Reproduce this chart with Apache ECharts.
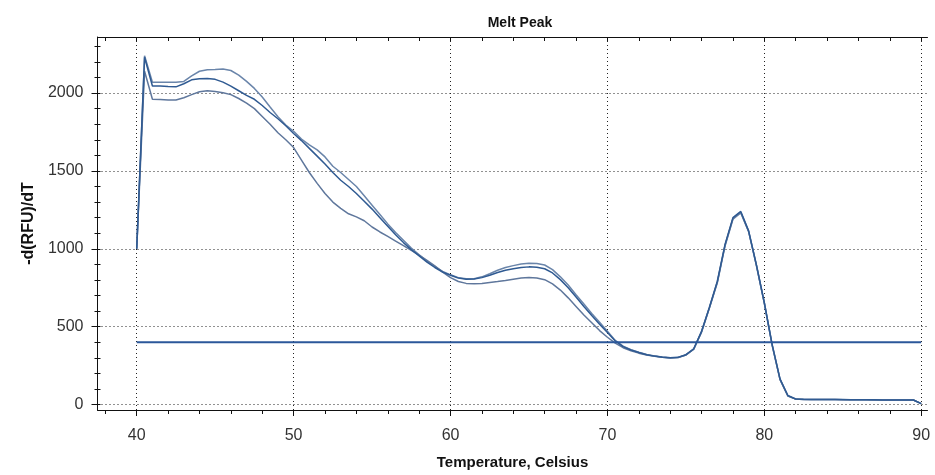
<!DOCTYPE html>
<html><head><meta charset="utf-8">
<script src="https://cdn.jsdelivr.net/npm/echarts@6/dist/echarts.min.js"></script>
<style>html,body{margin:0;padding:0;background:#fff}#c{width:935px;height:475px}</style>
</head><body><div id="c"></div>
<script>
// Temperature steps (Celsius)
const temps = [40,40.5,41,41.5,42,42.5,43,43.5,44,44.5,45,45.5,46,46.5,47,47.5,48,48.5,49,49.5,
  50,50.5,51,51.5,52,52.5,53,53.5,54,54.5,55,55.5,56,56.5,57,57.5,58,58.5,59,59.5,
  60,60.5,61,61.5,62,62.5,63,63.5,64,64.5,65,65.5,66,66.5,67,67.5,68,68.5,69,69.5,
  70,70.5,71,71.5,72,72.5,73,73.5,74,74.5,75,75.5,76,76.5,77,77.5,78,78.5,79,79.5,
  80,80.5,81,81.5,82,82.5,83,83.5,84,84.5,85,85.5,86,86.5,87,87.5,88,88.5,89,89.5,90];

// -d(RFU)/dT, three wells
const curveA = [1000,2240,2070,2070,2070,2070,2075,2110,2140,2150,2152,2155,2145,2115,2075,2030,1975,1910,1848,1795,
  1755,1705,1668,1635,1590,1530,1490,1445,1400,1340,1280,1220,1160,1105,1055,1005,962,920,885,855,
  833,815,808,808,820,840,862,880,892,902,908,906,896,866,820,768,705,645,585,528,
  470,412,375,352,336,322,312,305,300,302,318,355,465,620,780,1020,1190,1230,1110,890,
  650,380,160,55,35,33,33,32,32,32,31,31,31,31,30,30,30,30,30,29,6];

const curveB = [1000,2230,2045,2045,2042,2040,2060,2085,2092,2093,2088,2070,2045,2015,1985,1960,1920,1875,1835,1790,
  1740,1695,1645,1595,1545,1490,1440,1400,1355,1305,1255,1200,1145,1090,1040,995,955,915,880,850,
  830,812,805,806,815,830,848,862,872,880,884,882,872,845,802,750,690,630,572,516,
  462,408,372,350,334,320,311,304,300,303,320,358,470,625,790,1030,1200,1240,1115,895,
  655,385,165,58,36,34,33,33,32,32,32,31,31,31,31,30,30,30,30,29,6];

const curveC = [1000,2140,1960,1958,1956,1955,1970,1990,2008,2015,2010,2002,1990,1965,1935,1900,1850,1800,1745,1700,
  1650,1570,1490,1420,1355,1300,1260,1225,1205,1180,1140,1108,1080,1050,1020,990,960,925,890,850,
  815,790,778,775,778,784,790,797,805,812,816,813,802,775,735,685,630,575,525,475,
  432,395,365,345,330,318,310,303,299,302,318,356,468,622,785,1025,1195,1235,1112,892,
  652,382,162,56,35,33,33,32,32,32,31,31,31,31,30,30,30,30,30,29,6];

const thresholdX = [40, 90];
const thresholdY = [400, 400];

const xMajorTicks = [40,50,60,70,80,90];
const xMinorTicks = [38,42,44,46,48,52,54,56,58,62,64,66,68,72,74,76,78,82,84,86,88];
const xTopTicks = [38,40,42,44,46,48,50,52,54,56,58,60,62,64,66,68,70,72,74,76,78,80,82,84,86,88,90];
const yMajorTicks = [0,500,1000,1500,2000];
const yMinorTicks = [100,200,300,400,600,700,800,900,1100,1200,1300,1400,1600,1700,1800,1900,2100,2200,2300];
const yAllTicks = [0,100,200,300,400,500,600,700,800,900,1000,1100,1200,1300,1400,1500,1600,1700,1800,1900,2000,2100,2200,2300];

const FONT = 'Liberation Sans, Arial, sans-serif';
const XMIN = 37.5, XMAX = 90.4, YMIN = -35, YMAX = 2360;
const tickStyle = {color: '#111', width: 1};
const gridDots = {type: [1, 3], color: '#222', width: 1};

const chart = echarts.init(document.getElementById('c'), null, {renderer: 'canvas'});

function pairs(ys) { return temps.map((t, i) => [t, ys[i]]); }

const option = {
  animation: false,
  backgroundColor: '#fff',
  title: {
    text: 'Melt Peak', left: 515, top: 11, textAlign: 'center',
    textStyle: {fontFamily: FONT, fontSize: 14, fontWeight: 'bold', color: '#111'}
  },
  grid: {left: 97.5, right: 7.5, top: 37, bottom: 64.5, containLabel: false},
  xAxis: [
    {
      type: 'value', min: XMIN, max: XMAX, position: 'bottom',
      axisLine: {show: true, onZero: false, lineStyle: {color: '#111', width: 1}},
      axisTick: {show: true, customValues: xMajorTicks, length: 6, lineStyle: tickStyle},
      axisLabel: {customValues: xMajorTicks, margin: 18, fontSize: 16, fontFamily: FONT, color: '#333',
                  formatter: v => String(v)},
      splitLine: {show: true, lineStyle: gridDots},
      name: 'Temperature, Celsius', nameLocation: 'middle', nameGap: 45,
      nameTextStyle: {fontFamily: FONT, fontSize: 15, fontWeight: 'bold', color: '#111'}
    },
    {
      type: 'value', min: XMIN, max: XMAX, position: 'bottom',
      axisLine: {show: false, onZero: false},
      axisTick: {show: true, customValues: xMinorTicks, length: 4, lineStyle: tickStyle},
      axisLabel: {show: false}, splitLine: {show: false}
    },
    {
      type: 'value', min: XMIN, max: XMAX, position: 'top',
      axisLine: {show: true, onZero: false, lineStyle: {color: '#111', width: 1}},
      axisTick: {show: true, inside: true, customValues: xTopTicks, length: 4, lineStyle: tickStyle},
      axisLabel: {show: false}, splitLine: {show: false}
    }
  ],
  yAxis: [
    {
      type: 'value', min: YMIN, max: YMAX, position: 'left',
      axisLine: {show: true, onZero: false, lineStyle: {color: '#111', width: 1}},
      axisTick: {show: true, customValues: yMajorTicks, length: 6, lineStyle: tickStyle},
      axisLabel: {customValues: yMajorTicks, margin: 14, fontSize: 16, fontFamily: FONT, color: '#333',
                  formatter: v => String(v)},
      splitLine: {show: true, lineStyle: gridDots},
      name: '-d(RFU)/dT', nameLocation: 'middle', nameGap: 60, nameRotate: 90,
      nameTextStyle: {fontFamily: FONT, fontSize: 16, fontWeight: 'bold', color: '#111'}
    },
    {
      type: 'value', min: YMIN, max: YMAX, position: 'left',
      axisLine: {show: false, onZero: false},
      axisTick: {show: true, customValues: yMinorTicks, length: 3, lineStyle: tickStyle},
      axisLabel: {show: false}, splitLine: {show: false}
    },
    {
      type: 'value', min: YMIN, max: YMAX, position: 'left',
      axisLine: {show: false, onZero: false},
      axisTick: {show: true, inside: true, customValues: yAllTicks, length: 3, lineStyle: tickStyle},
      axisLabel: {show: false}, splitLine: {show: false}
    }
  ],
  series: [
    {type: 'line', name: 'A', data: pairs(curveA), showSymbol: false, symbol: 'none',
     lineStyle: {color: '#6a85aa', width: 1.5}, z: 3},
    {type: 'line', name: 'B', data: pairs(curveB), showSymbol: false, symbol: 'none',
     lineStyle: {color: '#2f5a92', width: 1.5}, z: 4},
    {type: 'line', name: 'C', data: pairs(curveC), showSymbol: false, symbol: 'none',
     lineStyle: {color: '#5f779c', width: 1.5}, z: 3},
    {type: 'line', name: 'Threshold', data: thresholdX.map((x, i) => [x, thresholdY[i]]),
     showSymbol: false, symbol: 'none', lineStyle: {color: '#2b579a', width: 2}, z: 5}
  ]
};
chart.setOption(option);
</script>
</body></html>
